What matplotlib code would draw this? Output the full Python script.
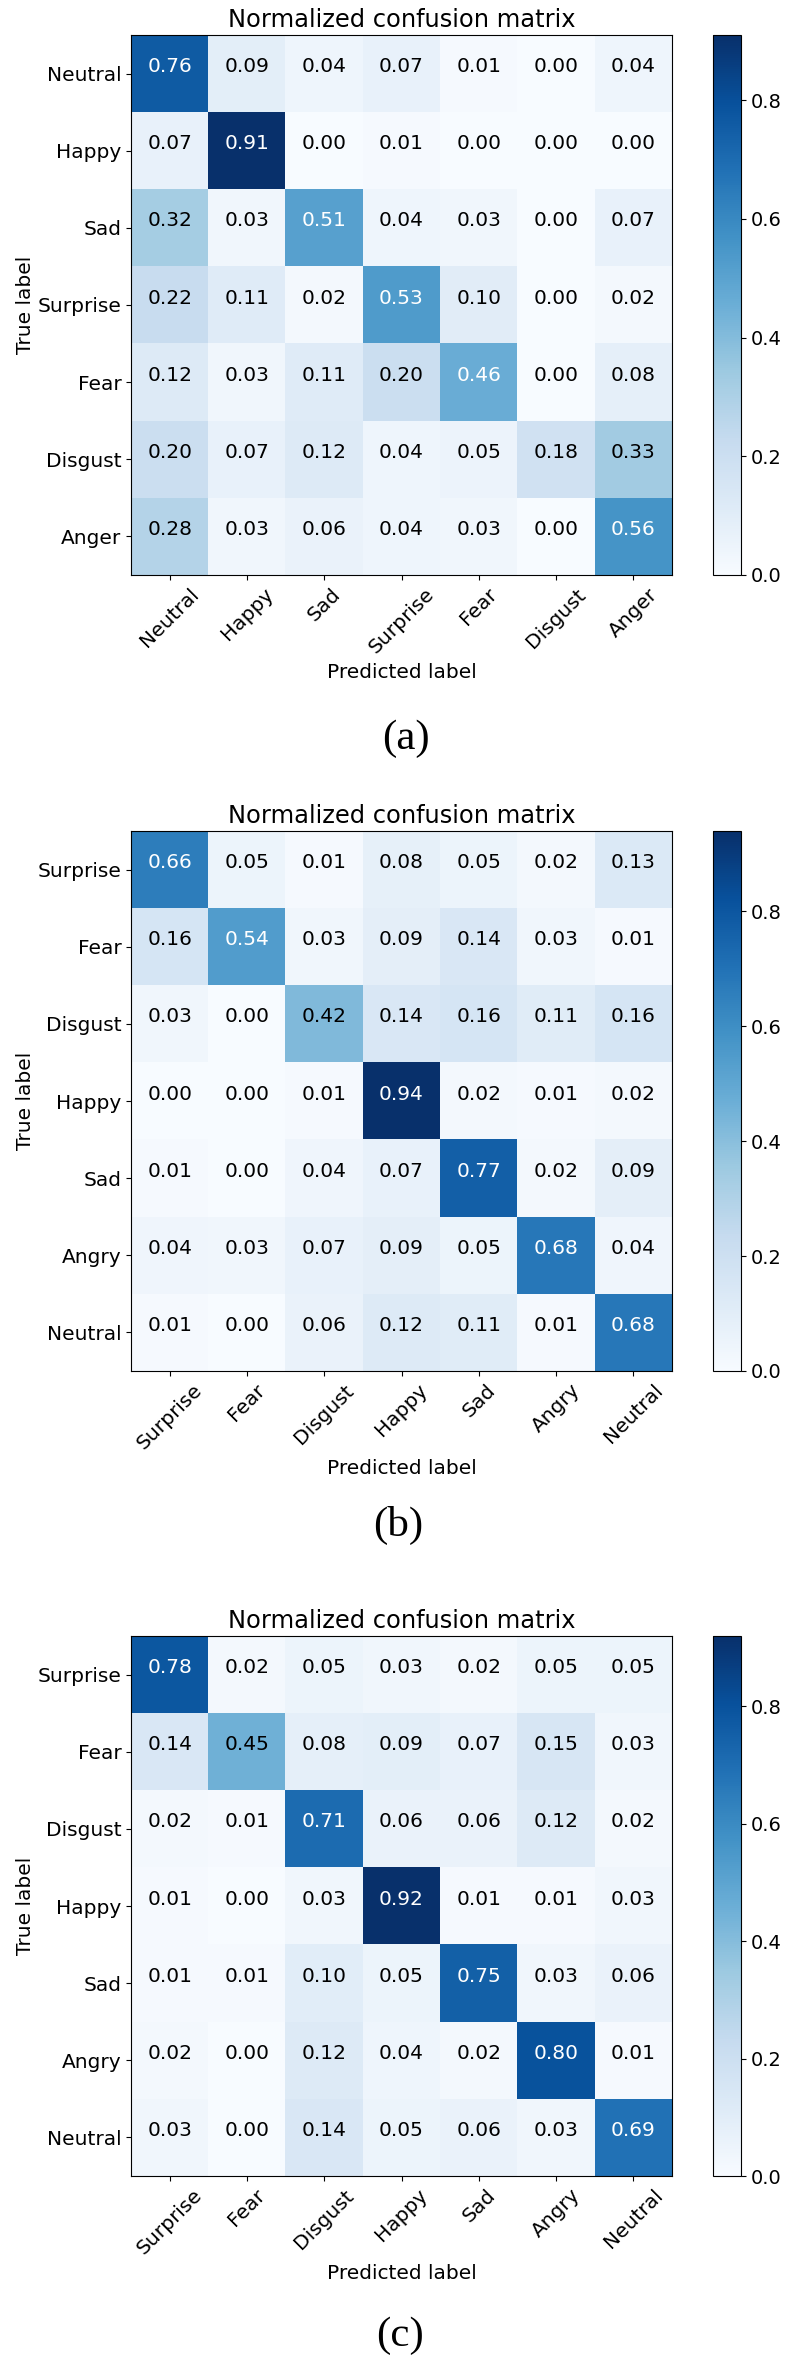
import numpy as np
import matplotlib
matplotlib.use("Agg")
import matplotlib.pyplot as plt

# Метки классов для трёх матриц
labels_a = ["Neutral", "Happy", "Sad", "Surprise", "Fear", "Disgust", "Anger"]
labels_bc = ["Surprise", "Fear", "Disgust", "Happy", "Sad", "Angry", "Neutral"]

# Нормализованные матрицы ошибок (строки — истинные метки)
cm_a = np.array([
    [0.76, 0.09, 0.04, 0.07, 0.01, 0.00, 0.04],
    [0.07, 0.91, 0.00, 0.01, 0.00, 0.00, 0.00],
    [0.32, 0.03, 0.51, 0.04, 0.03, 0.00, 0.07],
    [0.22, 0.11, 0.02, 0.53, 0.10, 0.00, 0.02],
    [0.12, 0.03, 0.11, 0.20, 0.46, 0.00, 0.08],
    [0.20, 0.07, 0.12, 0.04, 0.05, 0.18, 0.33],
    [0.28, 0.03, 0.06, 0.04, 0.03, 0.00, 0.56],
])
cm_b = np.array([
    [0.66, 0.05, 0.01, 0.08, 0.05, 0.02, 0.13],
    [0.16, 0.54, 0.03, 0.09, 0.14, 0.03, 0.01],
    [0.03, 0.00, 0.42, 0.14, 0.16, 0.11, 0.16],
    [0.00, 0.00, 0.01, 0.94, 0.02, 0.01, 0.02],
    [0.01, 0.00, 0.04, 0.07, 0.77, 0.02, 0.09],
    [0.04, 0.03, 0.07, 0.09, 0.05, 0.68, 0.04],
    [0.01, 0.00, 0.06, 0.12, 0.11, 0.01, 0.68],
])
cm_c = np.array([
    [0.78, 0.02, 0.05, 0.03, 0.02, 0.05, 0.05],
    [0.14, 0.45, 0.08, 0.09, 0.07, 0.15, 0.03],
    [0.02, 0.01, 0.71, 0.06, 0.06, 0.12, 0.02],
    [0.01, 0.00, 0.03, 0.92, 0.01, 0.01, 0.03],
    [0.01, 0.01, 0.10, 0.05, 0.75, 0.03, 0.06],
    [0.02, 0.00, 0.12, 0.04, 0.02, 0.80, 0.01],
    [0.03, 0.00, 0.14, 0.05, 0.06, 0.03, 0.69],
])
captions = ["(a)", "(b)", "(c)"]

W, H = 790, 2362
fig = plt.figure(figsize=(W / 100, H / 100), dpi=100)


def px_axes(x0, y0, w, h):
    """Оси по пиксельным координатам (от верхнего левого угла)."""
    return fig.add_axes([x0 / W, 1 - (y0 + h) / H, w / W, h / H])


def draw_cm(cm, labels, top, caption, cap_x, cap_y):
    ax = px_axes(131, top, 541, 540)
    cax = px_axes(713, top, 28, 540)
    im = ax.imshow(cm, interpolation="nearest", cmap=plt.cm.Blues,
                   vmin=0, vmax=cm.max(), aspect="auto")
    cb = fig.colorbar(im, cax=cax)
    cb.set_ticks([0.0, 0.2, 0.4, 0.6, 0.8])
    cb.ax.tick_params(labelsize=14)
    ax.set_title("Normalized confusion matrix", fontsize=17.4)
    ticks = np.arange(len(labels))
    ax.set_xticks(ticks)
    ax.set_yticks(ticks)
    ax.set_xticklabels(labels, rotation=45, fontsize=14.5)
    ax.set_yticklabels(labels, fontsize=14.5)
    thresh = cm.max() / 2.0
    for i in range(cm.shape[0]):
        for j in range(cm.shape[1]):
            ax.text(j, i - 0.09, format(cm[i, j], ".2f"),
                    ha="center", va="center", fontsize=14.5,
                    color="white" if cm[i, j] > thresh else "black")
    ax.set_ylabel("True label", fontsize=14.5, labelpad=2)
    ax.set_xlabel("Predicted label", fontsize=14.5)
    fig.text(cap_x / W, 1 - cap_y / H, caption, ha="center", va="center",
             fontsize=31, family="Liberation Serif")


draw_cm(cm_a, labels_a, 35, captions[0], 406, 739)
draw_cm(cm_b, labels_bc, 831, captions[1], 398, 1525)
draw_cm(cm_c, labels_bc, 1636, captions[2], 400, 2336)

fig.savefig("out.png", dpi=100)
